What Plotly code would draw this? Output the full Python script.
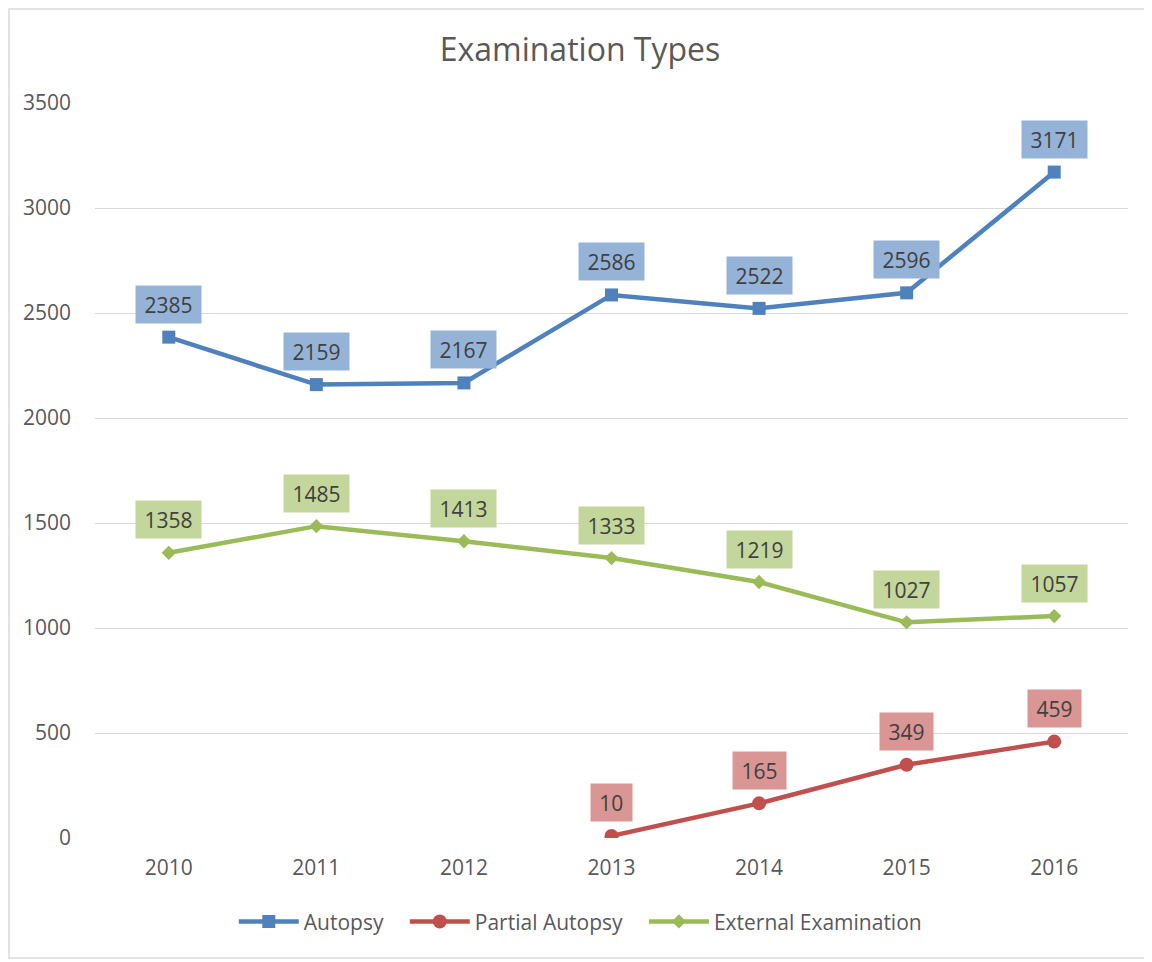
import plotly.graph_objects as go

years = [2010, 2011, 2012, 2013, 2014, 2015, 2016]
autopsy = [2385, 2159, 2167, 2586, 2522, 2596, 3171]
partial_autopsy = [None, None, None, 10, 165, 349, 459]
external_exam = [1358, 1485, 1413, 1333, 1219, 1027, 1057]
y_ticks = [0, 500, 1000, 1500, 2000, 2500, 3000, 3500]

series = [
    ("Autopsy", autopsy, "#4F81BD", "#95B3D7", "square", 13),
    ("Partial Autopsy", partial_autopsy, "#C0504D", "#DA9694", "circle", 14),
    ("External Examination", external_exam, "#9BBB59", "#C3D69B", "diamond", 11),
]

FONT = "Open Sans, Liberation Sans, sans-serif"
GAP = "\u00a0\u00a0\u00a0"  # extra room between legend entries

fig = go.Figure()
annotations = []
for name, vals, line_col, label_col, symbol, msize in series:
    fig.add_trace(go.Scatter(
        x=years, y=vals, name=name + GAP, mode="lines+markers",
        line=dict(color=line_col, width=4.5),
        marker=dict(symbol=symbol, size=msize, color=line_col),
    ))
    for yr, v in zip(years, vals):
        if v is None:
            continue
        txt = str(v)
        annotations.append(dict(
            x=yr, y=v, text=txt, showarrow=False, yshift=33,
            bgcolor=label_col, borderpad=3, width=12.3 * len(txt) + 10, height=31,
            font=dict(size=21, color="#404040", family=FONT),
        ))

# page body has an 8px margin, so the figure is shrunk by that much
fig.update_layout(
    width=1144, height=954,
    paper_bgcolor="white", plot_bgcolor="white",
    margin=dict(l=87, r=24, t=95, b=124),
    font=dict(family=FONT, color="#595959", size=21),
    title=dict(text="Examination Types", x=0.5, xanchor="center", y=0.956, yanchor="middle",
               font=dict(size=32, color="#595959", family=FONT)),
    showlegend=True,
    legend=dict(orientation="h", x=0.478, xanchor="center", y=-0.114, yanchor="middle",
                font=dict(size=21, color="#595959"), itemwidth=60),
    annotations=annotations,
    shapes=[dict(type="rect", xref="paper", yref="paper",
                 x0=-0.0833, x1=1.0194, y0=-0.1633, y1=1.1279,
                 line=dict(color="#D9D9D9", width=1.5))],
)
fig.update_xaxes(range=[2009.5, 2016.5], tickvals=years, showgrid=False, zeroline=False,
                 showline=False, ticks="", tickfont=dict(size=21, color="#595959"),
                 ticklabelstandoff=15)
fig.update_yaxes(range=[0, 3500], tickvals=y_ticks, showgrid=True, gridcolor="#D9D9D9",
                 gridwidth=1.3, zeroline=False, showline=False, ticks="",
                 tickfont=dict(size=21, color="#595959"), ticklabelstandoff=23)

fig.write_html("out.html")
